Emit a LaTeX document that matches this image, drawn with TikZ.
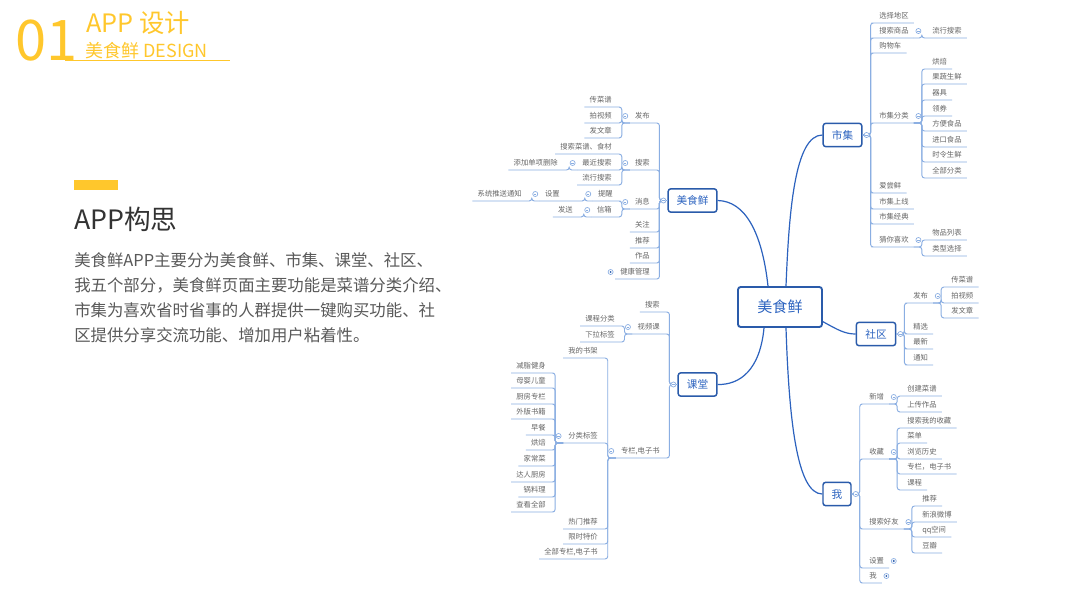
\documentclass[tikz,border=0pt]{standalone}
\usepackage{fontspec}
\setmainfont{Noto Sans CJK SC}
\usepackage{color}
\definecolor{hdyellow}{HTML}{FFC72C}
\definecolor{titlegray}{HTML}{333333}
\definecolor{bodygray}{HTML}{595959}
\definecolor{boxblue}{HTML}{2A5BAA}
\definecolor{topicblue}{HTML}{2D64C0}
\definecolor{trunkblue}{HTML}{2C62BE}
\definecolor{subblue}{HTML}{8AAEE2}
\definecolor{leafgray}{HTML}{666666}

\begin{document}
\begin{tikzpicture}[x=0.75pt, y=-0.75pt,
    leaf/.style={font=\fontsize{5.5}{6}\selectfont, text=leafgray, inner xsep=3.75pt, inner ysep=2.3pt, text height=4.7pt, text depth=0.8pt},
    topic/.style={draw=boxblue, line width=1.1pt, rounded corners=2pt, fill=white, text=topicblue, font=\fontsize{8}{9}\selectfont, inner sep=0pt, minimum height=17.5pt},
    trunk/.style={draw=trunkblue, line width=0.9pt},
    sub/.style={draw=subblue, line width=0.7pt, rounded corners=2pt},
    knob/.style={draw=subblue, fill=white, line width=0.5pt}]
    \fill[white] (0,0) rectangle (1067,600);
    \useasboundingbox (0,0) rectangle (1067,600);

    % header
    \node[anchor=base west, inner sep=0pt, text=hdyellow, font=\fontsize{42}{42}\selectfont] (num) at (15,60) {01};
    \node[anchor=base west, inner sep=0pt, text=hdyellow, font=\fontsize{19}{20}\selectfont, text depth=0pt] (ttl) at (86,32) {APP 设计};
    \node[anchor=base west, inner sep=0pt, text=hdyellow, font=\fontsize{13.5}{14}\selectfont, text height=9pt] (sub) at (85,57) {美食鲜 DESIGN};
    \draw[hdyellow, line width=0.75pt] (65,60) -- (230,60);

    % left text
    \fill[hdyellow] (74,180) rectangle (118,190);
    \node[anchor=base west, inner sep=0pt, text=titlegray, font=\fontsize{20}{20}\selectfont] (gs) at (74,229) {APP构思};
    \foreach \i/\t in {0/美食鲜APP主要分为美食鲜、市集、课堂、社区、,
                       1/我五个部分，美食鲜页面主要功能是菜谱分类介绍、,
                       2/市集为喜欢省时省事的人群提供一键购买功能、社,
                       3/区提供分享交流功能、增加用户粘着性。} {
      \node[anchor=base west, inner sep=0pt, text=bodygray, font=\fontsize{12.3}{18}\selectfont] (txt\i) at (74,266+25*\i) {\t};
    }

    % topics
    \node[topic, minimum width=63pt, minimum height=30pt, line width=1.4pt, font=\fontsize{11.3}{12}\selectfont] (ctr) at (780,307) {美食鲜};
    \node[topic, minimum width=36.5pt] (mx) at (692.5,200.5) {美食鲜};
    \node[topic, minimum width=29pt] (sj) at (842.5,135) {市集};
    \node[topic, minimum width=29pt] (kt) at (697.5,384.5) {课堂};
    \node[topic, minimum width=29.5pt] (sq) at (876,334) {社区};
    \node[topic, minimum width=21pt] (wo) at (837,494) {我};

    \draw[trunk] ([xshift=-9pt]ctr.north) .. controls (762,232) and (745,201) .. (mx.east);
    \draw[trunk] ([xshift=4.5pt]ctr.north) .. controls (789,210) and (795,135) .. (sj.west);
    \draw[trunk] ([xshift=-12pt]ctr.south) .. controls (760,370) and (740,385) .. (kt.east);
    \draw[trunk] ([yshift=-11pt]ctr.east) .. controls (838,330) and (845,334) .. (sq.west);
    \draw[trunk] ([xshift=4.5pt]ctr.south) .. controls (789,420) and (797,494) .. (wo.west);

    % left side items
    \foreach \n/\x/\y/\t in {ms1/655/123/发布, ms2/655/170/搜索, ms3/655/209/消息, ms4/655/232/关注,
        ms5/655/248/推荐, ms6/655/263/作品, ms7/655/279/健康管理,
        fb1/617/107/传菜谱, fb2/617/123/拍视频, fb3/617/138/发文章,
        ss1/617/154/搜索菜谱、食材, ss2/617/170/最近搜索, ss3/617/185/流行搜索, ss4/563/170/添加单项删除,
        xx1/618/201/提醒, xx2/565/201/设置, xx3/527/201/系统推送通知, xx4/617/217/信箱, xx5/578/217/发送,
        kt1/665/312/搜索, kt2/665/334/视频课,
        sp1/620/326/课程分类, sp2/620/342/下拉标签,
        zl1/603/358/我的书架, zl2/603/443/分类标签, zl3/603/529/热门推荐, zl4/603/544/限时特价,
        fl1/551/373/减脂健身, fl2/551/388/母婴儿童, fl3/551/404/厨房专栏, fl4/551/419/外版书籍,
        fl5/551/435/早餐, fl6/551/450/烘焙, fl7/551/466/家常菜, fl8/551/482/达人厨房,
        fl9/551/497/锅料理, fl10/551/512/查看全部} {
      \node[leaf, anchor=south east] (\n) at (\x,\y) {\t};
    }
    \node[leaf, anchor=south east] (kt3) at (665,458) {专栏,电子书};
    \node[leaf, anchor=south east] (zl5) at (603,559) {全部专栏,电子书};

    % right side items
    \foreach \n/\x/\y/\t in {sj1/874/23/选择地区, sj2/874/38/搜索商品, sj3/874/53/购物车, sj4/874/123/市集分类,
        sj5/874/193/爱尝鲜, sj6/874/209/市集上线, sj7/874/224/市集经典, sj8/874/247/猜你喜欢,
        ls1/927/38/流行搜索,
        fc1/927/69/烘焙, fc2/927/84/果蔬生鲜, fc3/927/100/器具, fc4/927/116/领券,
        fc5/927/131/方便食品, fc6/927/147/进口食品, fc7/927/162/时令生鲜, fc8/927/178/全部分类,
        cx1/927/240/物品列表, cx2/927/256/类型选择,
        sq1/908/303/发布, sq2/908/334/精选, sq3/908/349/最新, sq4/908/365/通知,
        fq1/946/287/传菜谱, fq2/946/303/拍视频, fq3/946/318/发文章,
        wo1/864/404/新增, wo2/864/459/收藏, wo3/864/529/搜索好友, wo4/864/568/设置, wo5/864/583/我,
        xz1/902/396/创建菜谱, xz2/902/412/上传作品,
        sc1/902/428/搜索我的收藏, sc2/902/443/菜单, sc3/902/459/浏览历史, sc4/902/474/专栏，电子书, sc5/902/490/课程,
        hy1/917/506/推荐, hy2/917/522/新浪微博, hy3/917/537/qq空间, hy4/917/553/豆瓣} {
      \node[leaf, anchor=south west] (\n) at (\x,\y) {\t};
    }

    % connectors, left
    \foreach \c/\p in {ms1/mx, ms2/mx, ms3/mx, ms4/mx, ms5/mx, ms6/mx, ms7/mx, kt1/kt, kt2/kt, kt3/kt}
      \draw[sub] (\c.south west) -- (\c.south east) -| ([xshift=-6pt]\p.west) -- (\p.west);
    \foreach \c/\p in {fb1/ms1, fb2/ms1, fb3/ms1, ss1/ms2, ss2/ms2, ss3/ms2, ss4/ss2,
        xx1/ms3, xx4/ms3, xx2/xx1, xx3/xx2, xx5/xx4,
        sp1/kt2, sp2/kt2, zl1/kt3, zl2/kt3, zl3/kt3, zl4/kt3, zl5/kt3,
        fl1/zl2, fl2/zl2, fl3/zl2, fl4/zl2, fl5/zl2, fl6/zl2, fl7/zl2, fl8/zl2, fl9/zl2, fl10/zl2}
      \draw[sub] (\c.south west) -- (\c.south east) -| ([xshift=-6pt]\p.south west) -- (\p.south west);

    % connectors, right
    \foreach \c/\p in {sj1/sj, sj2/sj, sj3/sj, sj4/sj, sj5/sj, sj6/sj, sj7/sj, sj8/sj,
        sq1/sq, sq2/sq, sq3/sq, sq4/sq, wo1/wo, wo2/wo, wo3/wo, wo4/wo, wo5/wo}
      \draw[sub] (\c.south east) -- (\c.south west) -| ([xshift=6pt]\p.east) -- (\p.east);
    \foreach \c/\p in {ls1/sj2, fc1/sj4, fc2/sj4, fc3/sj4, fc4/sj4, fc5/sj4, fc6/sj4, fc7/sj4, fc8/sj4,
        cx1/sj8, cx2/sj8, fq1/sq1, fq2/sq1, fq3/sq1, xz1/wo1, xz2/wo1,
        sc1/wo2, sc2/wo2, sc3/wo2, sc4/wo2, sc5/wo2, hy1/wo3, hy2/wo3, hy3/wo3, hy4/wo3}
      \draw[sub] (\c.south east) -- (\c.south west) -| ([xshift=6pt]\p.south east) -- (\p.south east);

    % knobs
    \foreach \n in {mx, kt} {
      \draw[knob] ([xshift=-3pt]\n.west) circle (1.9pt);
      \draw[subblue, line width=0.5pt] ([xshift=-3.9pt]\n.west) -- ([xshift=-2.1pt]\n.west);
    }
    \foreach \n in {sj, sq, wo} {
      \draw[knob] ([xshift=3pt]\n.east) circle (1.9pt);
      \draw[subblue, line width=0.5pt] ([xshift=2.1pt]\n.east) -- ([xshift=3.9pt]\n.east);
    }
    \foreach \n in {ms1, ms2, ms3, ss2, xx1, xx2, xx4, kt2, kt3, zl2} {
      \draw[knob] ([xshift=-3.4pt]\n.west) circle (1.9pt);
      \draw[subblue, line width=0.5pt] ([xshift=-4.3pt]\n.west) -- ([xshift=-2.5pt]\n.west);
    }
    \foreach \n in {sj2, sj4, sj8, sq1, wo1, wo2, wo3} {
      \draw[knob] ([xshift=3.4pt]\n.east) circle (1.9pt);
      \draw[subblue, line width=0.5pt] ([xshift=2.5pt]\n.east) -- ([xshift=4.3pt]\n.east);
    }
    \draw[knob] ([xshift=-3.4pt]ms7.west) circle (1.9pt);
    \fill[boxblue] ([xshift=-3.4pt]ms7.west) circle (0.8pt);
    \foreach \n in {wo4, wo5} {
      \draw[knob] ([xshift=3.4pt]\n.east) circle (1.9pt);
      \fill[boxblue] ([xshift=3.4pt]\n.east) circle (0.8pt);
    }
  \end{tikzpicture}
\end{document}
